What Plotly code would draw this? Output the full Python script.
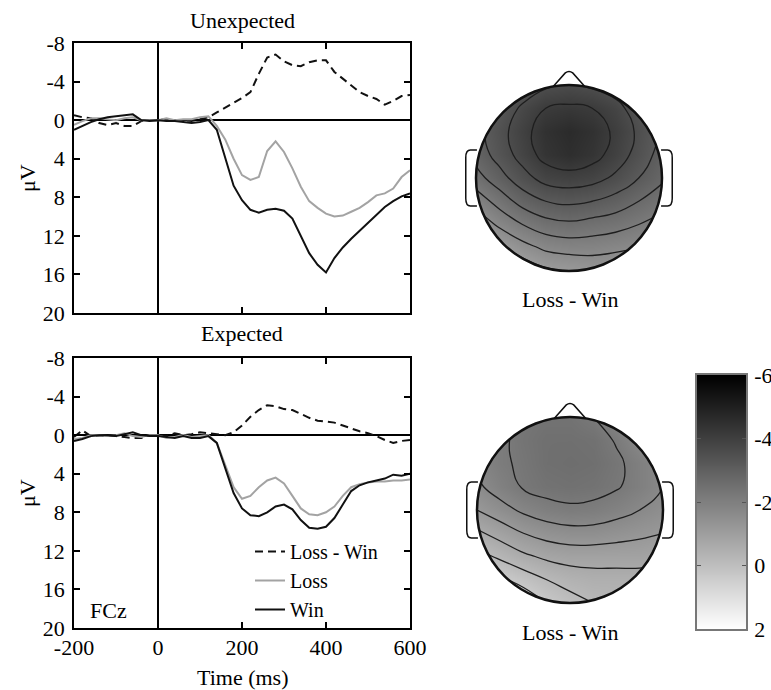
import plotly.graph_objects as go

# ---------------- data ----------------
time_ms = [-200, -180, -160, -140, -120, -100, -80, -60, -40, -20, 0, 20, 40, 60, 80, 100,
           120, 140, 160, 180, 200, 220, 240, 260, 280, 300, 320, 340, 360, 380, 400, 420,
           440, 460, 480, 500, 520, 540, 560, 580, 600]

# Unexpected condition (FCz, microvolts)
unexp_diff = [-0.5, -0.3, -0.2, 0.3, 0.5, 0.3, 0.6, 0.6, 0.1, 0.0, 0.0, -0.1, 0.1, 0.0, 0.1, -0.1,
              -0.3, -0.8, -1.3, -1.8, -2.3, -2.9, -4.8, -6.5, -6.8, -6.1, -5.7, -5.6, -6.0, -6.2, -6.2, -5.0,
              -4.3, -3.6, -2.9, -2.5, -2.2, -1.6, -2.0, -2.5, -2.6]
unexp_loss = [0.5, 0.1, -0.2, -0.2, -0.1, 0.0, -0.2, -0.3, 0.0, 0.0, 0.0, -0.2, 0.0, -0.1, -0.1, -0.3,
              -0.4, 0.6, 2.0, 4.0, 5.7, 6.2, 5.9, 3.2, 2.2, 3.3, 5.0, 6.9, 8.4, 9.1, 9.7, 10.0,
              9.9, 9.5, 9.1, 8.5, 7.8, 7.6, 7.1, 5.9, 5.2]
unexp_win = [1.0, 0.6, 0.2, -0.1, -0.3, -0.4, -0.5, -0.6, 0.0, 0.1, 0.0, 0.1, 0.1, 0.2, 0.3, 0.2,
             0.0, 1.0, 4.0, 6.8, 8.3, 9.3, 9.6, 9.3, 9.2, 9.4, 10.2, 12.0, 13.8, 15.0, 15.8, 14.3,
             13.2, 12.3, 11.5, 10.6, 9.8, 9.0, 8.4, 7.9, 7.6]

# Expected condition
exp_diff = [0.2, -0.5, 0.1, 0.0, 0.1, 0.1, 0.2, 0.3, 0.3, 0.0, 0.0, 0.1, -0.2, 0.0, -0.1, -0.3,
            -0.2, -0.1, 0.0, -0.3, -1.0, -1.9, -2.6, -3.1, -3.0, -2.7, -2.6, -2.2, -1.8, -1.5, -1.4, -1.3,
            -1.0, -0.7, -0.4, -0.2, 0.1, 0.5, 0.8, 0.6, 0.5]
exp_loss = [0.4, 0.3, 0.0, 0.0, 0.1, 0.0, -0.2, 0.1, 0.2, 0.0, 0.0, 0.3, 0.2, 0.0, 0.2, 0.1,
            0.0, 0.8, 3.0, 5.4, 6.6, 6.3, 5.4, 4.7, 4.4, 5.0, 6.3, 7.6, 8.2, 8.3, 8.0, 7.4,
            6.3, 5.4, 5.1, 4.9, 4.8, 4.8, 4.7, 4.7, 4.6]
exp_win = [0.6, 0.4, 0.1, 0.0, 0.0, 0.1, -0.1, -0.3, 0.0, 0.1, 0.1, 0.2, 0.3, 0.1, 0.3, 0.3,
           0.1, 0.8, 3.3, 6.0, 7.6, 8.3, 8.4, 8.0, 7.4, 7.2, 7.7, 8.8, 9.6, 9.7, 9.5, 8.6,
           7.2, 5.8, 5.2, 4.9, 4.7, 4.5, 4.1, 4.2, 4.0]

x_ticks = [-200, 0, 200, 400, 600]
x_tick_text = ["-200", "0", "200", "400", "600"]
y_ticks = [-8, -4, 0, 4, 8, 12, 16, 20]
y_tick_text = ["-8", "-4", "0", "4", "8", "12", "16", "20"]

# Topographic maps (Loss - Win), grid over the head, rows listed top (front) to bottom (back)
topo_coords = [-1.0, -0.75, -0.5, -0.25, 0.0, 0.25, 0.5, 0.75, 1.0]
topo_unexp_rows = [
    [-2.65, -2.95, -3.25, -3.55, -3.65, -3.55, -3.35, -3.05, -2.75],
    [-2.85, -3.25, -3.75, -4.15, -4.25, -4.15, -3.85, -3.35, -2.95],
    [-2.95, -3.45, -3.95, -4.45, -4.65, -4.45, -4.05, -3.55, -3.05],
    [-2.85, -3.35, -3.85, -4.35, -4.55, -4.35, -3.95, -3.45, -2.95],
    [-2.45, -2.95, -3.45, -3.85, -3.95, -3.85, -3.55, -3.15, -2.75],
    [-1.85, -2.35, -2.85, -3.15, -3.25, -3.15, -2.95, -2.65, -2.35],
    [-1.25, -1.75, -2.15, -2.45, -2.55, -2.45, -2.35, -2.15, -1.95],
    [-0.65, -1.05, -1.45, -1.75, -1.85, -1.85, -1.75, -1.65, -1.55],
    [-0.05, -0.45, -0.75, -1.05, -1.15, -1.25, -1.25, -1.15, -1.05],
]
topo_exp_rows = [
    [-1.6, -2.0, -2.3, -2.4, -2.4, -2.2, -1.8, -1.4, -1.1],
    [-1.7, -2.1, -2.35, -2.5, -2.5, -2.45, -2.15, -1.7, -1.4],
    [-1.8, -2.1, -2.3, -2.5, -2.55, -2.5, -2.3, -2.0, -1.7],
    [-1.6, -1.95, -2.25, -2.4, -2.45, -2.4, -2.25, -2.0, -1.7],
    [-1.2, -1.5, -1.8, -2.0, -2.1, -2.05, -1.9, -1.7, -1.5],
    [-0.6, -0.9, -1.2, -1.4, -1.5, -1.5, -1.4, -1.3, -1.2],
    [0.0, -0.3, -0.6, -0.8, -0.9, -0.9, -0.9, -0.9, -0.8],
    [0.7, 0.4, 0.1, -0.2, -0.4, -0.5, -0.5, -0.5, -0.5],
    [1.3, 1.0, 0.7, 0.3, 0.0, -0.2, -0.3, -0.3, -0.3],
]
cbar_levels = [-6, -5, -4, -3, -2, -1, 0, 1, 2]
cbar_ticks = [-6, -4, -2, 0, 2]
cbar_tick_text = ["-6", "-4", "-2", "0", "2"]

# ---------------- figure ----------------
W, H = 771, 690
FONT = "Liberation Serif"
FS = 22


def fx(p):
    return p / W


def fy(p):
    return 1 - p / H


fig = go.Figure()

line_win = dict(color="#111111", width=2)
line_loss = dict(color="#a3a3a3", width=2)
line_diff = dict(color="#111111", width=2, dash="8px,5px")

for xa, ya, d, l, w, show in [("x", "y", unexp_diff, unexp_loss, unexp_win, False),
                               ("x2", "y2", exp_diff, exp_loss, exp_win, True)]:
    fig.add_trace(go.Scatter(x=time_ms, y=d, mode="lines", line=line_diff, name="Loss - Win",
                             xaxis=xa, yaxis=ya, showlegend=show))
    fig.add_trace(go.Scatter(x=time_ms, y=l, mode="lines", line=line_loss, name="Loss",
                             xaxis=xa, yaxis=ya, showlegend=show))
    fig.add_trace(go.Scatter(x=time_ms, y=w, mode="lines", line=line_win, name="Win",
                             xaxis=xa, yaxis=ya, showlegend=show))

gray_scale = [[0, "#000000"], [1, "#ffffff"]]
for xa, ya, rows, c_start in [("x3", "y3", topo_unexp_rows, -4.15),
                              ("x4", "y4", topo_exp_rows, -2.2)]:
    z = rows[::-1]
    ys = topo_coords
    fig.add_trace(go.Heatmap(x=topo_coords, y=ys, z=z, zmin=-6, zmax=2, colorscale=gray_scale,
                             zsmooth="best", showscale=False, xaxis=xa, yaxis=ya,
                             hoverinfo="skip", showlegend=False))
    fig.add_trace(go.Contour(x=topo_coords, y=ys, z=z, showscale=False, showlegend=False,
                             contours=dict(coloring="none", start=c_start, end=2.0, size=0.5),
                             line=dict(color="#1e1e1e", width=1.3, smoothing=1.3),
                             xaxis=xa, yaxis=ya, hoverinfo="skip"))

# colour bar as its own axes (so -6 can sit on top)
fig.add_trace(go.Heatmap(x=[0], y=cbar_levels, z=[[v] for v in cbar_levels], zmin=-6, zmax=2,
                         colorscale=gray_scale, zsmooth="best", showscale=False, showlegend=False,
                         xaxis="x5", yaxis="y5", hoverinfo="skip"))

erp_ax = dict(showline=True, mirror="allticks", linecolor="black", linewidth=1.5,
              ticks="inside", ticklen=6, tickwidth=1.5, tickcolor="black", showgrid=False,
              zeroline=True, zerolinecolor="black", zerolinewidth=1.5, automargin=False,
              tickfont=dict(family=FONT, size=FS, color="black"))
head_ax = dict(range=[-1.25, 1.25], visible=False, automargin=False)

fig.update_layout(
    width=W, height=H, margin=dict(l=0, r=0, t=0, b=0, autoexpand=False),
    paper_bgcolor="white", plot_bgcolor="white",
    font=dict(family=FONT, size=FS, color="black"),
    xaxis=dict(erp_ax, domain=[fx(74), fx(410)], range=[-200, 600], tickvals=x_ticks,
               ticktext=x_tick_text, showticklabels=False, anchor="y"),
    yaxis=dict(erp_ax, domain=[fy(313), fy(43)], range=[20, -8], tickvals=y_ticks,
               ticktext=y_tick_text, anchor="x", ticklabelstandoff=3),
    xaxis2=dict(erp_ax, domain=[fx(74), fx(410)], range=[-200, 600], tickvals=x_ticks,
                ticktext=x_tick_text, anchor="y2", ticklabelstandoff=-1),
    yaxis2=dict(erp_ax, domain=[fy(628), fy(358)], range=[20, -8], tickvals=y_ticks,
                ticktext=y_tick_text, anchor="x2", ticklabelstandoff=3),
    xaxis3=dict(head_ax, domain=[fx(569 - 116.25), fx(569 + 116.25)], anchor="y3"),
    yaxis3=dict(head_ax, domain=[fy(178 + 116.25), fy(178 - 116.25)], anchor="x3"),
    xaxis4=dict(head_ax, domain=[fx(570 - 116.25), fx(570 + 116.25)], anchor="y4"),
    yaxis4=dict(head_ax, domain=[fy(510 + 116.25), fy(510 - 116.25)], anchor="x4"),
    xaxis5=dict(domain=[fx(697), fx(746)], range=[-0.5, 0.5], showticklabels=False, ticks="",
                showline=True, mirror=True, linecolor="#777777", linewidth=1.5, showgrid=False,
                zeroline=False, anchor="y5", automargin=False),
    yaxis5=dict(domain=[fy(629), fy(375)], range=[2, -6], tickvals=cbar_ticks,
                ticktext=cbar_tick_text, side="right",
                ticks="inside", ticklen=4, tickwidth=1, tickcolor="#555555", mirror="allticks",
                showline=True, linecolor="#777777", linewidth=1.5, showgrid=False,
                zeroline=False, anchor="x5", ticklabelstandoff=2, automargin=False,
                tickfont=dict(family=FONT, size=FS, color="black")),
    legend=dict(x=fx(250), y=fy(532), xanchor="left", yanchor="top",
                bgcolor="rgba(0,0,0,0)", font=dict(family=FONT, size=20, color="black"),
                tracegroupgap=0, itemwidth=30),
)

# head outlines
k = 0.5523
circle_path = (f"M 1,0 C 1,{k} {k},1 0,1 C {-k},1 -1,{k} -1,0 "
               f"C -1,{-k} {-k},-1 0,-1 C {k},-1 1,{-k} 1,0 Z")
mask_path = "M -1.4,-1.4 L 1.4,-1.4 L 1.4,1.4 L -1.4,1.4 Z " + circle_path
nose_path = "M -0.17,0.985 L -0.04,1.13 Q 0,1.16 0.04,1.13 L 0.17,0.985"
ear_l = "M -0.99,0.30 L -1.06,0.30 Q -1.11,0.30 -1.11,0.22 L -1.11,-0.22 Q -1.11,-0.30 -1.06,-0.30 L -0.99,-0.30"
ear_r = "M 0.99,0.30 L 1.06,0.30 Q 1.11,0.30 1.11,0.22 L 1.11,-0.22 Q 1.11,-0.30 1.06,-0.30 L 0.99,-0.30"

shapes = []
for xr, yr in [("x3", "y3"), ("x4", "y4")]:
    shapes.append(dict(type="path", path=mask_path, xref=xr, yref=yr, fillcolor="white",
                       fillrule="evenodd", line=dict(width=0), layer="above"))
    for p in (nose_path, ear_l, ear_r):
        shapes.append(dict(type="path", path=p, xref=xr, yref=yr,
                           line=dict(color="#111111", width=1.5), layer="above"))
    shapes.append(dict(type="circle", x0=-1, y0=-1, x1=1, y1=1, xref=xr, yref=yr,
                       line=dict(color="#111111", width=2.5), layer="above"))
fig.update_layout(shapes=shapes)

ann = [
    dict(text="Unexpected", x=fx(242), y=fy(20)),
    dict(text="Expected", x=fx(242), y=fy(333)),
    dict(text="Time (ms)", x=fx(242), y=fy(677)),
    dict(text="Loss - Win", x=fx(570), y=fy(300)),
    dict(text="Loss - Win", x=fx(570), y=fy(632)),
    dict(text="μV", x=fx(27), y=fy(178), textangle=-90),
    dict(text="μV", x=fx(27), y=fy(493), textangle=-90),
]
annotations = []
for a in ann:
    annotations.append(dict(a, xref="paper", yref="paper", showarrow=False,
                            xanchor="center", yanchor="middle",
                            font=dict(family=FONT, size=FS, color="black")))
annotations.append(dict(text="FCz", x=fx(88), y=fy(610), xref="paper", yref="paper",
                        showarrow=False, xanchor="left", yanchor="middle",
                        font=dict(family=FONT, size=FS, color="black")))
fig.update_layout(annotations=annotations)

fig.write_html("out.html", config={"displayModeBar": False},
               post_script="document.body.style.margin='0px';")
